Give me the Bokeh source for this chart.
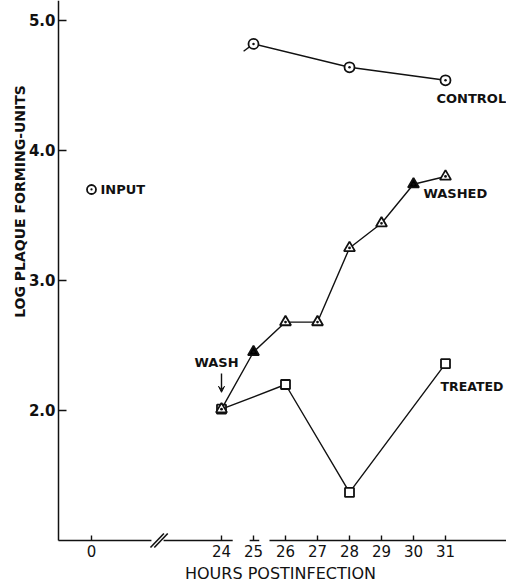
import math
from bokeh.plotting import figure
from bokeh.models import Range1d, FixedTicker, Label, Arrow, VeeHead
from bokeh.embed import file_html
from bokeh.resources import INLINE

# ---- data ----
input_hours = [0]
input_log = [3.70]
control_hours = [25, 28, 31]
control_log = [4.82, 4.64, 4.54]
washed_hours = [24, 25, 26, 27, 28, 29, 30, 31]
washed_log = [2.01, 2.45, 2.68, 2.68, 3.25, 3.44, 3.74, 3.80]
treated_hours = [24, 26, 28, 31]
treated_log = [2.01, 2.20, 1.37, 2.36]
x_tick_hours = [0, 24, 25, 26, 27, 28, 29, 30, 31]
x_tick_labels = ["0", "24", "25", "26", "27", "28", "29", "30", "31"]
y_ticks = [2.0, 3.0, 4.0, 5.0]
y_tick_labels = ["2.0", "3.0", "4.0", "5.0"]

# styles (kept separate from data)
washed_fill = ["white", "black", "white", "white", "white", "white", "black", "white"]

# broken x axis: hours before the break are shifted next to it
BREAK_AT = 24
PRE_BREAK_SHIFT = 19.9375


def ax(h):
    return h if h >= BREAK_AT else h + PRE_BREAK_SHIFT


# ranges cover the whole canvas; axes are drawn at fixed locations inside it
X0, X1 = 17.09375, 32.90625
Y0, Y1 = 0.6769, 5.1538
AXIS_X = 18.90625   # where the y axis stands
AXIS_Y = 1.0        # where the x axis stands
INK = "#111111"
FONT = "DejaVu Sans"

p = figure(width=506, height=582, x_range=Range1d(X0, X1), y_range=Range1d(Y0, Y1),
           output_backend="svg", toolbar_location=None,
           min_border_left=0, min_border_right=0, min_border_top=0, min_border_bottom=0)
p.outline_line_color = None
p.xgrid.visible = False
p.ygrid.visible = False
p.background_fill_color = "white"
p.border_fill_color = "white"

# x axis
xa = p.xaxis[0]
xa.fixed_location = AXIS_Y
xa.ticker = FixedTicker(ticks=[ax(h) for h in x_tick_hours])
xa.major_label_overrides = {ax(h): lab for h, lab in zip(x_tick_hours, x_tick_labels)}
xa.axis_line_color = None
xa.major_tick_in = 5
xa.major_tick_out = 0
xa.major_tick_line_width = 1.4
xa.major_tick_line_color = INK
xa.minor_tick_line_color = None
xa.major_label_standoff = 5
xa.major_label_text_font = FONT
xa.major_label_text_font_size = "15px"
xa.major_label_text_color = INK

# y axis
ya = p.yaxis[0]
ya.fixed_location = AXIS_X
ya.bounds = (AXIS_Y, Y1)
ya.ticker = FixedTicker(ticks=y_ticks)
ya.major_label_overrides = dict(zip(y_ticks, y_tick_labels))
ya.axis_line_width = 1.5
ya.axis_line_color = INK
ya.major_tick_in = 8
ya.major_tick_out = 0
ya.major_tick_line_width = 1.5
ya.major_tick_line_color = INK
ya.minor_tick_line_color = None
ya.major_label_standoff = 3
ya.major_label_text_font = FONT
ya.major_label_text_font_size = "15px"
ya.major_label_text_font_style = "bold"
ya.major_label_text_color = INK

# hand-drawn x axis line with gaps and break marks
for xs, xe in [(AXIS_X, 21.81), (22.19, 24.35), (24.88, 25.18), (25.5, X1)]:
    p.add_layout(Arrow(x_start=xs, y_start=AXIS_Y, x_end=xe, y_end=AXIS_Y, start=None, end=None,
                       line_color=INK, line_width=1.5))
for dx in [0.0, 0.12]:
    p.add_layout(Arrow(x_start=21.78 + dx, y_start=AXIS_Y - 0.054, x_end=22.20 + dx,
                       y_end=AXIS_Y + 0.054, start=None, end=None, line_color=INK, line_width=1.6))

LW = 1.4
# series
p.line([ax(h) for h in control_hours], control_log, line_color=INK, line_width=LW)
p.segment(x0=[ax(control_hours[0]) - 0.31], y0=[control_log[0] - 0.057],
          x1=[ax(control_hours[0])], y1=[control_log[0]], line_color=INK, line_width=LW)
p.scatter([ax(h) for h in control_hours], control_log, marker="circle_dot", size=10,
          line_color=INK, line_width=1.8, fill_color="white")

p.line([ax(h) for h in treated_hours], treated_log, line_color=INK, line_width=LW)
p.scatter([ax(h) for h in treated_hours], treated_log, marker="square", size=9,
          line_color=INK, line_width=1.8, fill_color="white")

p.line([ax(h) for h in washed_hours], washed_log, line_color=INK, line_width=LW)
p.scatter([ax(h) for h in washed_hours], washed_log, marker="triangle_dot", size=11,
          line_color=INK, line_width=1.8, fill_color=washed_fill)

p.scatter([ax(h) for h in input_hours], input_log, marker="circle_dot", size=9,
          line_color=INK, line_width=1.8, fill_color="white")

# wash arrow
p.add_layout(Arrow(x_start=ax(washed_hours[0]), y_start=washed_log[0] + 0.275,
                   x_end=ax(washed_hours[0]), y_end=washed_log[0] + 0.13,
                   end=VeeHead(size=6, fill_color=INK, line_color=INK),
                   line_color=INK, line_width=1.4))


def lab(text, x, y, dx, dy, align="left", size="13px", style="bold", angle=0.0):
    p.add_layout(Label(x=x, y=y, x_offset=dx, y_offset=dy, text=text, text_align=align,
                       text_baseline="middle", text_font=FONT, text_font_size=size,
                       text_font_style=style, text_color=INK, angle=angle))


lab("INPUT", ax(input_hours[0]), input_log[0], 9, 0)
lab("CONTROL", ax(control_hours[-1]), control_log[-1], -9, -18)
lab("WASHED", ax(washed_hours[-1]), washed_log[-1], -22, -17)
lab("TREATED", ax(treated_hours[-1]), treated_log[-1], -5, -23, size="12.5px")
lab("WASH", ax(washed_hours[0]), washed_log[0], -5, 47, align="center")

# axis titles
lab("HOURS POSTINFECTION", 25.84375, AXIS_Y, 0, -33, align="center", size="16px", style="normal")
lab("LOG PLAQUE FORMING-UNITS", 17.6875, 3.6077, 0, 0, align="center", size="14px",
    angle=math.pi / 2)

open("out.html", "w").write(file_html(p, INLINE))
